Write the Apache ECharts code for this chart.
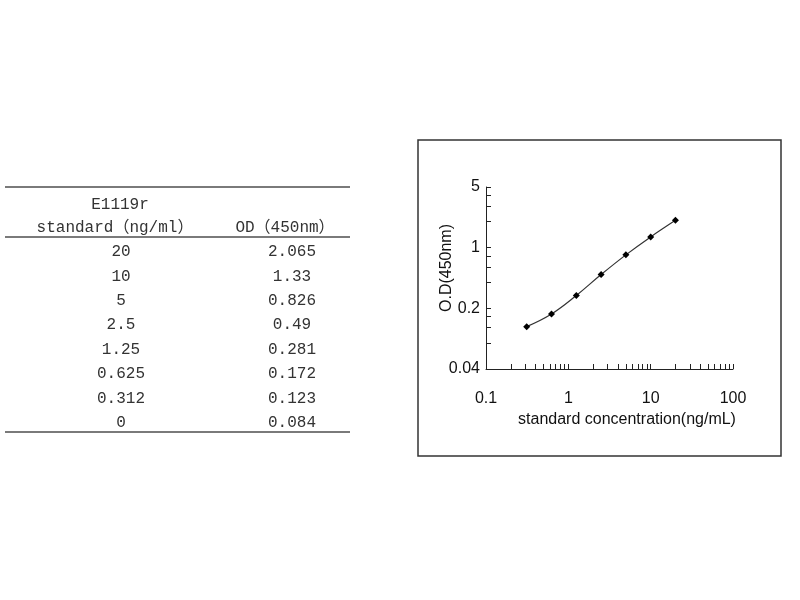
<!DOCTYPE html>
<html>
<head>
<meta charset="utf-8">
<script src="https://cdn.jsdelivr.net/npm/echarts@6/dist/echarts.min.js"></script>
<style>
html,body{margin:0;padding:0;background:#fff;}
#main{width:800px;height:600px;}
</style>
</head>
<body>
<div id="main"></div>
<script>
// Table data (as printed)
const tableHeaderLeft = ['E1119r', 'standard（ng/ml）'];
const tableHeaderRight = 'OD（450nm）';
const tableConc = ['20', '10', '5', '2.5', '1.25', '0.625', '0.312', '0'];
const tableOD = ['2.065', '1.33', '0.826', '0.49', '0.281', '0.172', '0.123', '0.084'];

// Axis ticks / labels
const xLabelValues = [0.1, 1, 10, 100];
const yLabelValues = [0.04, 0.2, 1, 5];
const xTickValues = [0.1,0.2,0.3,0.4,0.5,0.6,0.7,0.8,0.9,1,2,3,4,5,6,7,8,9,10,20,30,40,50,60,70,80,90,100];
const yTickValues = [0.04,0.08,0.12,0.16,0.2,0.4,0.6,0.8,1,2,3,4,5];

// points plotted (zero concentration cannot be shown on log axis)
const curveData = [];
for (let i = 0; i < tableConc.length; i++) {
  const c = parseFloat(tableConc[i]);
  if (c > 0) curveData.push([c, parseFloat(tableOD[i])]);
}

const chart = echarts.init(document.getElementById('main'), null, {renderer: 'canvas'});

const tableFont = '16px "Liberation Mono", "Noto Sans CJK SC", monospace';
const tableColor = '#333';
const graphics = [];
// table rules
[187, 237, 432].forEach(function (y) {
  graphics.push({type: 'line', shape: {x1: 5, y1: y, x2: 350, y2: y}, style: {stroke: '#7a7a7a', lineWidth: 2}});
});
// header
graphics.push({type: 'text', x: 120, y: 205, style: {text: tableHeaderLeft[0], font: tableFont, fill: tableColor, align: 'center', verticalAlign: 'middle'}});
graphics.push({type: 'text', x: 115, y: 228, style: {text: tableHeaderLeft[1], font: tableFont, fill: tableColor, align: 'center', verticalAlign: 'middle'}});
graphics.push({type: 'text', x: 285, y: 228, style: {text: tableHeaderRight, font: tableFont, fill: tableColor, align: 'center', verticalAlign: 'middle'}});
for (let i = 0; i < tableConc.length; i++) {
  const y = 252 + i * 24.4;
  graphics.push({type: 'text', x: 121, y: y, style: {text: tableConc[i], font: tableFont, fill: tableColor, align: 'center', verticalAlign: 'middle'}});
  graphics.push({type: 'text', x: 292, y: y, style: {text: tableOD[i], font: tableFont, fill: tableColor, align: 'center', verticalAlign: 'middle'}});
}
// frame around plot
graphics.push({type: 'rect', shape: {x: 418, y: 140, width: 363, height: 316}, style: {fill: 'none', stroke: '#333', lineWidth: 1.5}});

const axisColor = '#222';
const labelFont = {fontFamily: '"Liberation Sans", Arial, sans-serif', fontSize: 16, color: '#111'};

chart.setOption({
  animation: false,
  backgroundColor: '#fff',
  graphic: graphics,
  grid: {left: 486, right: 67, top: 187, bottom: 231, containLabel: false},
  xAxis: {
    type: 'log', logBase: 10, min: 0.1, max: 100,
    name: 'standard concentration(ng/mL)', nameLocation: 'middle', nameGap: 43,
    nameMoveOverlap: false,
    nameTextStyle: Object.assign({}, labelFont, {fontSize: 16, padding: [0, 0, 0, 35]}),
    axisLine: {show: true, lineStyle: {color: axisColor, width: 1}},
    axisTick: {show: true, inside: true, length: 5, customValues: xTickValues, lineStyle: {color: axisColor}},
    minorTick: {show: false},
    axisLabel: Object.assign({}, labelFont, {margin: 22, customValues: xLabelValues}),
    splitLine: {show: false}
  },
  yAxis: {
    type: 'log', logBase: 5, min: 0.04, max: 5,
    name: 'O.D(450nm)', nameLocation: 'middle', nameGap: 31,
    nameMoveOverlap: false,
    nameTextStyle: Object.assign({}, labelFont, {fontSize: 16, padding: [0, 0, 0, 20]}),
    axisLine: {show: true, lineStyle: {color: axisColor, width: 1}},
    axisTick: {show: true, inside: true, length: 5, customValues: yTickValues, lineStyle: {color: axisColor}},
    minorTick: {show: false},
    axisLabel: Object.assign({}, labelFont, {margin: 6, customValues: yLabelValues}),
    splitLine: {show: false}
  },
  series: [{
    type: 'line',
    data: curveData,
    smooth: 0.4,
    symbol: 'diamond',
    symbolSize: 7,
    lineStyle: {color: '#333', width: 1.2},
    itemStyle: {color: '#000'}
  }]
});
</script>
</body>
</html>
